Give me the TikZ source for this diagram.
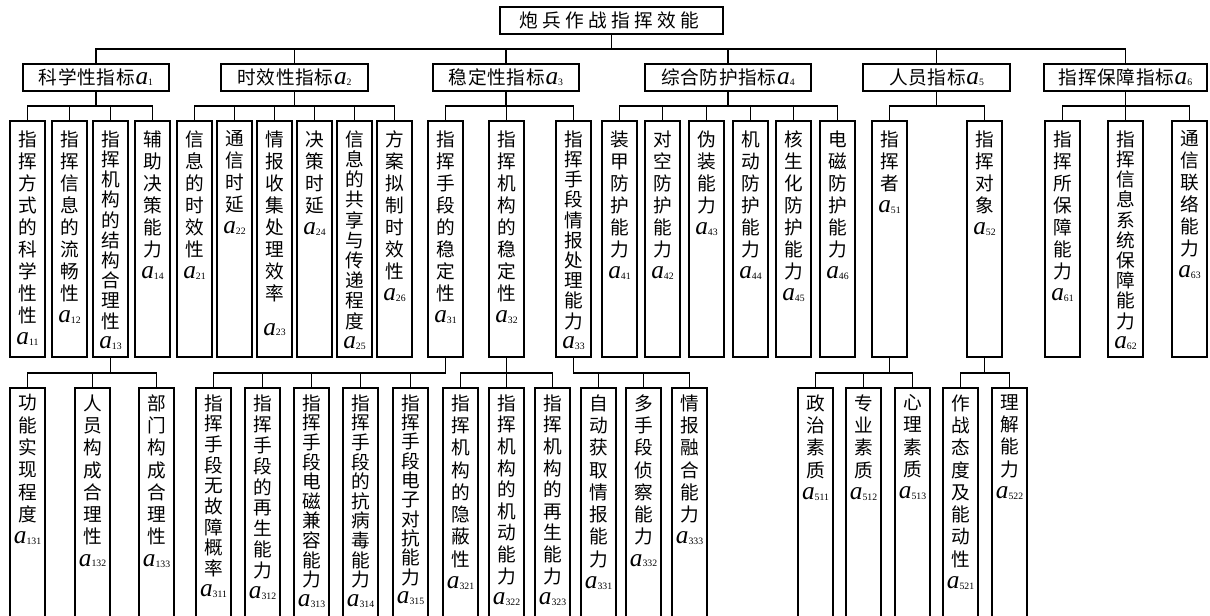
\documentclass[tikz,border=0pt]{standalone}
\usepackage{fontspec}
\newfontfamily\cjk{Noto Sans CJK SC}
\newfontfamily\tnr{Liberation Serif}
\makeatletter
\def\vt@end{\vt@end@}
\newcommand\vt[2]{\vt@loop#1\vt@end#2}
\def\vt@loop#1{\ifx#1\vt@end\expandafter\@gobble\else\expandafter\@firstofone\fi{#1\\\vt@loop}}
\newcommand\hsp[2]{\def\hsp@gap{#2}\hsp@loop#1\vt@end}
\def\hsp@loop#1{\ifx#1\vt@end\expandafter\@gobble\else\expandafter\@firstofone\fi{#1\hspace{\hsp@gap}\hsp@loop}}
\makeatother
\newcommand\lab[1]{{\tnr\fontsize{19pt}{19pt}\selectfont\itshape a}{\tnr\fontsize{7.3pt}{8pt}\selectfont\raisebox{-0.6pt}{#1}}}
\tikzset{
  boxroot/.style={draw, minimum width=167.25pt, minimum height=20.25pt, inner sep=0pt, font=\cjk\fontsize{14pt}{16pt}\selectfont},
  boxone/.style={draw, minimum height=20.25pt, inner sep=0pt, font=\cjk\fontsize{14pt}{16pt}\selectfont},
  boxtwo/.style={draw, minimum width=26.25pt, minimum height=177pt, inner sep=0pt},
  boxthree/.style={draw, minimum width=26.25pt, minimum height=189pt, inner sep=0pt},
  vtext/.style={anchor=north, inner sep=0pt, align=center, font=\cjk\fontsize{14pt}{#1}\selectfont},
  vtext/.default=16.5pt
}
\begin{document}
\begin{tikzpicture}[x=0.75pt,y=-0.75pt,line width=0.9pt]
\useasboundingbox (0,0) rectangle (1210,616);
\clip (0,0) rectangle (1210,616);
% root
\node[boxroot] (root) at (611.5,20.5) {\hsp{炮兵作战指挥效能}{3.3pt}\hspace{-3.3pt}};
% level 1
\node[boxone, minimum width=109.5pt] (a1) at (96,77.5) {\hsp{科学性指标}{0.5pt}\lab{1}};
\node[boxone, minimum width=110.25pt] (a2) at (294.5,77.5) {\hsp{时效性指标}{0.5pt}\lab{2}};
\node[boxone, minimum width=109.5pt] (a3) at (506,77.5) {\hsp{稳定性指标}{0.5pt}\lab{3}};
\node[boxone, minimum width=124.5pt] (a4) at (728,77.5) {\hsp{综合防护指标}{0.5pt}\lab{4}};
\node[boxone, minimum width=110.25pt] (a5) at (936.5,77.5) {\hsp{人员指标}{0.5pt}\lab{5}};
\node[boxone, minimum width=122.25pt] (a6) at (1125.5,77.5) {\hsp{指挥保障指标}{0.5pt}\lab{6}};
% level 2 boxes
\foreach \n/\x in {a11/27.5,a12/69.5,a13/110.5,a14/152.5,a21/194.5,a22/234.5,a23/274.5,a24/314.5,a25/354.5,a26/394.5,a31/445.5,a32/506.5,a33/573.5,a41/619.5,a42/662.5,a43/706.5,a44/750.5,a45/793.5,a46/837.5,a51/889.5,a52/984.5,a61/1062.5,a62/1125.5,a63/1189.5}
  \node[boxtwo] (\n) at (\x,239) {};
% level 2 texts
\node[vtext] (t11) at (27.5,130) {\vt{指挥方式的科学性性}{\lab{11}}};
\node[vtext] (t12) at (69.5,130) {\vt{指挥信息的流畅性}{\lab{12}}};
\node[vtext=15.15pt] (t13) at (110.5,130) {\vt{指挥机构的结构合理性}{\lab{13}}};
\node[vtext] (t14) at (152.5,130) {\vt{辅助决策能力}{\lab{14}}};
\node[vtext] (t21) at (194.5,130) {\vt{信息的时效性}{\lab{21}}};
\node[vtext] (t22) at (234.5,130) {\vt{通信时延}{\lab{22}}};
\node[vtext] (t23) at (274.5,130) {\vt{情报收集处理效率}{\rule{0pt}{24pt}\lab{23}}};
\node[vtext] (t24) at (314.5,130) {\vt{决策时延}{\lab{24}}};
\node[vtext=15.15pt] (t25) at (354.5,130) {\vt{信息的共享与传递程度}{\lab{25}}};
\node[vtext] (t26) at (394.5,130) {\vt{方案拟制时效性}{\lab{26}}};
\node[vtext] (t31) at (445.5,130) {\vt{指挥手段的稳定性}{\lab{31}}};
\node[vtext] (t32) at (506.5,130) {\vt{指挥机构的稳定性}{\lab{32}}};
\node[vtext=15.15pt] (t33) at (573.5,130) {\vt{指挥手段情报处理能力}{\lab{33}}};
\node[vtext] (t41) at (619.5,130) {\vt{装甲防护能力}{\lab{41}}};
\node[vtext] (t42) at (662.5,130) {\vt{对空防护能力}{\lab{42}}};
\node[vtext] (t43) at (706.5,130) {\vt{伪装能力}{\lab{43}}};
\node[vtext] (t44) at (750.5,130) {\vt{机动防护能力}{\lab{44}}};
\node[vtext] (t45) at (793.5,130) {\vt{核生化防护能力}{\lab{45}}};
\node[vtext] (t46) at (837.5,130) {\vt{电磁防护能力}{\lab{46}}};
\node[vtext] (t51) at (889.5,130) {\vt{指挥者}{\lab{51}}};
\node[vtext] (t52) at (984.5,130) {\vt{指挥对象}{\lab{52}}};
\node[vtext] (t61) at (1062.5,130) {\vt{指挥所保障能力}{\lab{61}}};
\node[vtext=15.15pt] (t62) at (1125.5,130) {\vt{指挥信息系统保障能力}{\lab{62}}};
\node[vtext] (t63) at (1189.5,130) {\vt{通信联络能力}{\lab{63}}};
% level 3 boxes
\foreach \n/\x in {a131/27.5,a132/92.5,a133/156.5,a311/213.5,a312/262.5,a313/311.5,a314/360.5,a315/410.5,a321/460.5,a322/506.5,a323/552.5,a331/598.5,a332/643.5,a333/689.5,a511/815.5,a512/863.5,a513/912.5,a521/960.5,a522/1009.5}
  \node[boxthree] (\n) at (\x,514) {};
% level 3 texts
\node[vtext=16.7pt] (t131) at (27.5,394) {\vt{功能实现程度}{\lab{131}}};
\node[vtext=16.7pt] (t132) at (92.5,394) {\vt{人员构成合理性}{\lab{132}}};
\node[vtext=16.7pt] (t133) at (156.5,394) {\vt{部门构成合理性}{\lab{133}}};
\node[vtext=15.5pt] (t311) at (213.5,394) {\vt{指挥手段无故障概率}{\lab{311}}};
\node[vtext=15.7pt] (t312) at (262.5,394) {\vt{指挥手段的再生能力}{\lab{312}}};
\node[vtext=14.7pt] (t313) at (311.5,394) {\vt{指挥手段电磁兼容能力}{\lab{313}}};
\node[vtext=14.7pt] (t314) at (360.5,394) {\vt{指挥手段的抗病毒能力}{\lab{314}}};
\node[vtext=14.5pt] (t315) at (410.5,394) {\vt{指挥手段电子对抗能力}{\lab{315}}};
\node[vtext=16.7pt] (t321) at (460.5,394) {\vt{指挥机构的隐蔽性}{\lab{321}}};
\node[vtext=16.2pt] (t322) at (506.5,394) {\vt{指挥机构的机动能力}{\lab{322}}};
\node[vtext=16.2pt] (t323) at (552.5,394) {\vt{指挥机构的再生能力}{\lab{323}}};
\node[vtext=16.7pt] (t331) at (598.5,394) {\vt{自动获取情报能力}{\lab{331}}};
\node[vtext=16.7pt] (t332) at (643.5,394) {\vt{多手段侦察能力}{\lab{332}}};
\node[vtext=16.7pt] (t333) at (689.5,394) {\vt{情报融合能力}{\lab{333}}};
\node[vtext=16.7pt] (t511) at (815.5,394) {\vt{政治素质}{\lab{511}}};
\node[vtext=16.7pt] (t512) at (863.5,394) {\vt{专业素质}{\lab{512}}};
\node[vtext=16.7pt] (t513) at (912.5,394) {\vt{心理素质}{\lab{513}}};
\node[vtext=16.7pt] (t521) at (960.5,394) {\vt{作战态度及能动性}{\lab{521}}};
\node[vtext=16.7pt] (t522) at (1009.5,394) {\vt{理解能力}{\lab{522}}};
% bus levels
\coordinate (y0) at (0,49);
\coordinate (y1) at (0,106);
\coordinate (y2) at (0,373);
% connectors
\foreach \c in {a1,a2,a3,a4,a5,a6}
  \draw (root.south) -- (root.south |- y0) -| (\c.north);
\foreach \c in {a11,a12,a13,a14}
  \draw (a1.south) -- (a1.south |- y1) -| (\c.north);
\foreach \c in {a21,a22,a23,a24,a25,a26}
  \draw (a2.south) -- (a2.south |- y1) -| (\c.north);
\foreach \c in {a31,a32,a33}
  \draw (a3.south) -- (a3.south |- y1) -| (\c.north);
\foreach \c in {a41,a42,a43,a44,a45,a46}
  \draw (a4.south) -- (a4.south |- y1) -| (\c.north);
\foreach \c in {a51,a52}
  \draw (a5.south) -- (a5.south |- y1) -| (\c.north);
\foreach \c in {a61,a62,a63}
  \draw (a6.south) -- (a6.south |- y1) -| (\c.north);
\foreach \c in {a131,a132,a133}
  \draw (a13.south) -- (a13.south |- y2) -| (\c.north);
\foreach \c in {a311,a312,a313,a314,a315}
  \draw (a31.south) -- (a31.south |- y2) -| (\c.north);
\foreach \c in {a321,a322,a323}
  \draw (a32.south) -- (a32.south |- y2) -| (\c.north);
\foreach \c in {a331,a332,a333}
  \draw (a33.south) -- (a33.south |- y2) -| (\c.north);
\foreach \c in {a511,a512,a513}
  \draw (a51.south) -- (a51.south |- y2) -| (\c.north);
\foreach \c in {a521,a522}
  \draw (a52.south) -- (a52.south |- y2) -| (\c.north);
\end{tikzpicture}
\end{document}
